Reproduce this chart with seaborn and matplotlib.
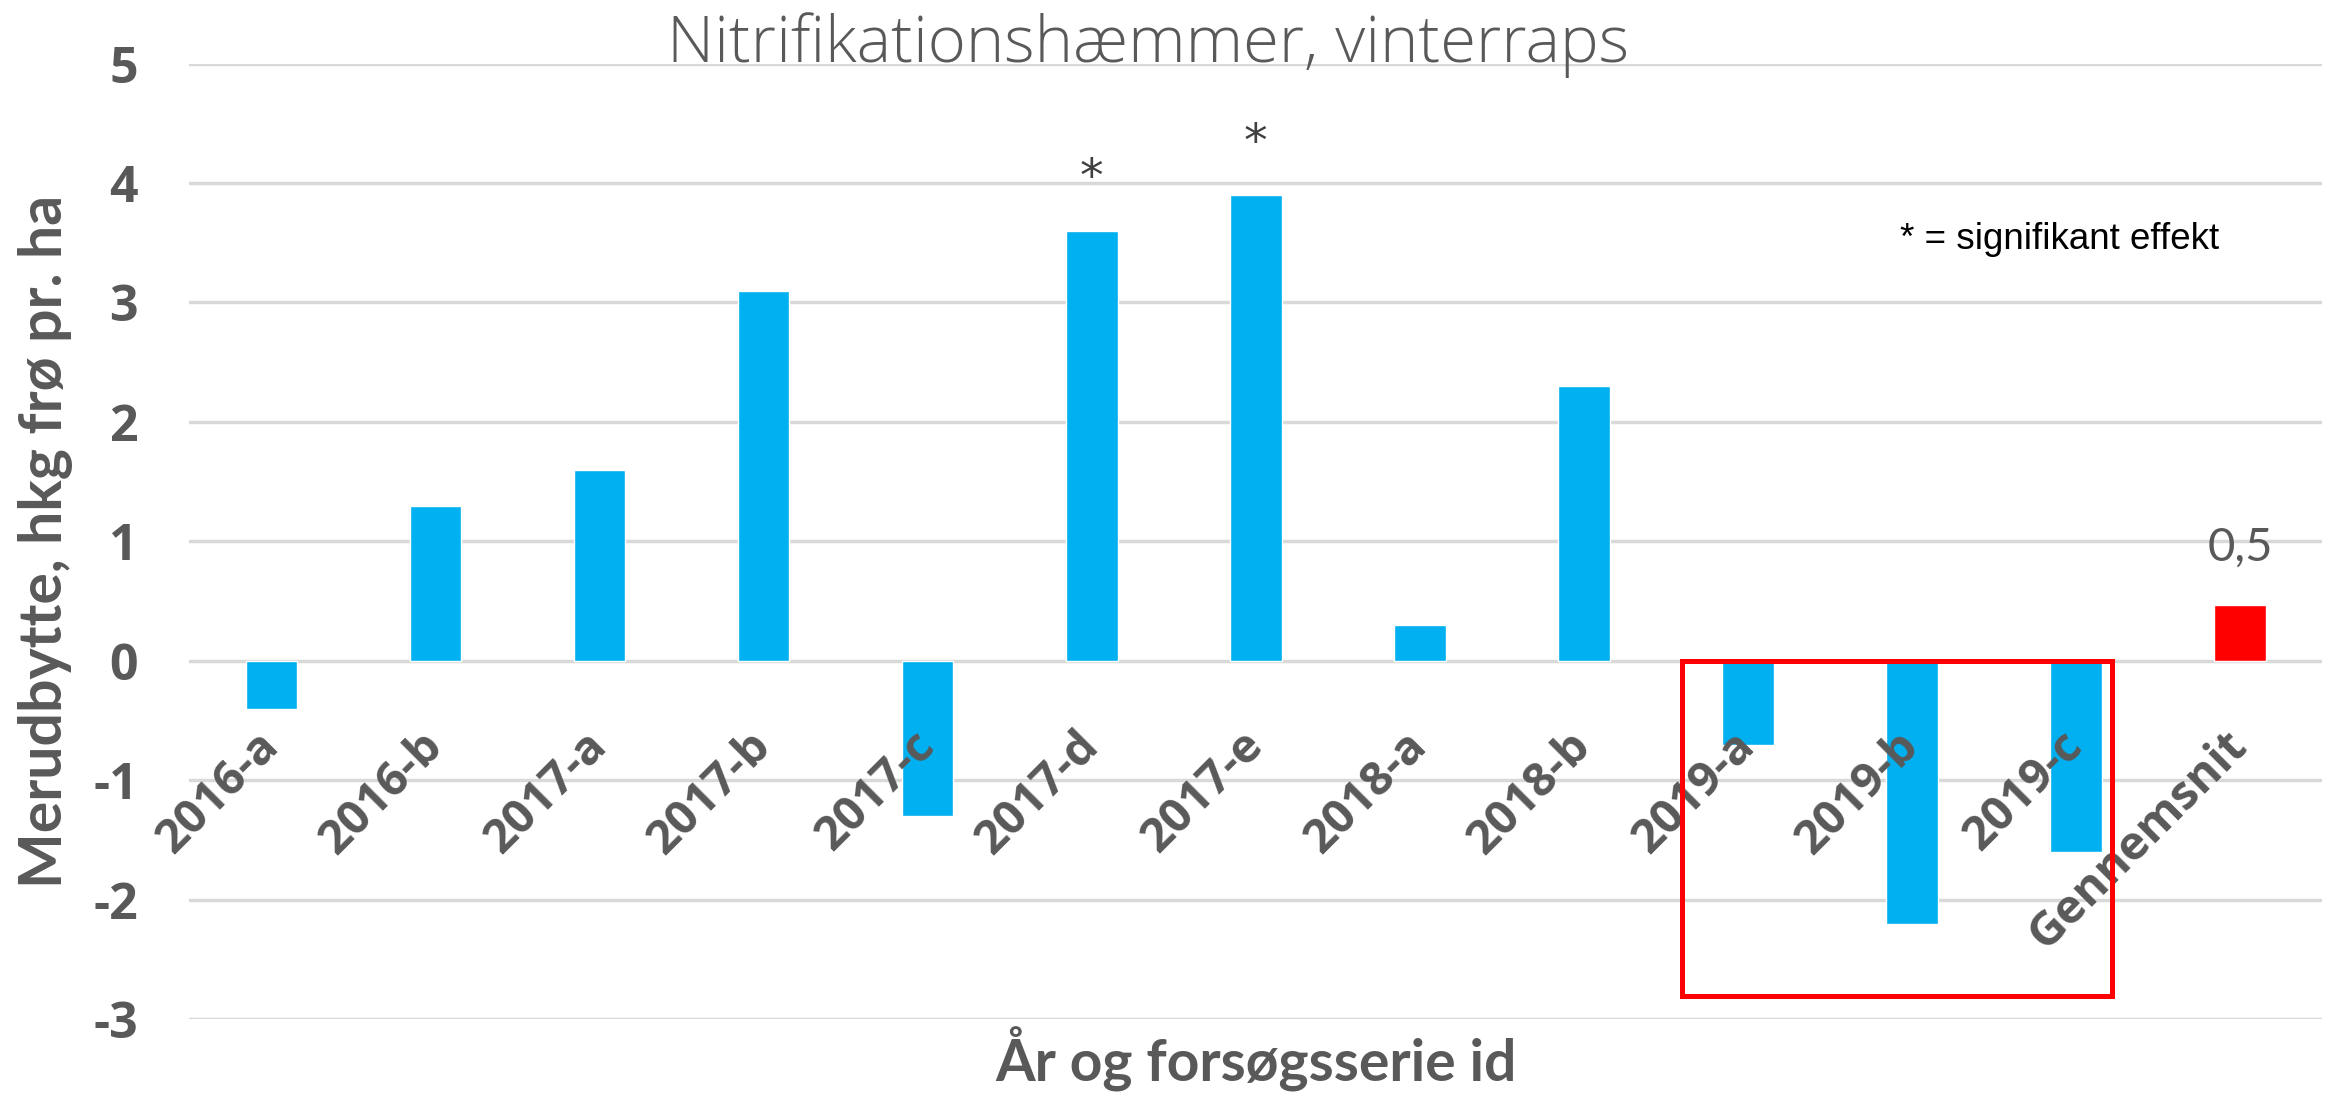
import matplotlib
matplotlib.use('Agg')
import matplotlib.pyplot as plt
import matplotlib.patches as patches
import pandas as pd
import seaborn as sns

# Data
categories = ['2016-a', '2016-b', '2017-a', '2017-b', '2017-c', '2017-d', '2017-e',
              '2018-a', '2018-b', '2019-a', '2019-b', '2019-c', 'Gennemsnit']
values = [-0.4, 1.3, 1.6, 3.1, -1.3, 3.6, 3.9, 0.3, 2.3, -0.7, -2.2, -1.6, 0.47]
significant = ['2017-d', '2017-e']
average_label = 'Gennemsnit'
highlight = ['2019-a', '2019-b', '2019-c']

blue = '#00B0F0'
red = '#FF0000'
grey = '#595959'
colors = [red if c == average_label else blue for c in categories]

df = pd.DataFrame({'id': categories, 'value': values})

sns.set_style('white')
plt.rcParams['font.family'] = ['Lato', 'DejaVu Sans']
plt.rcParams['axes.unicode_minus'] = False

fig = plt.figure(figsize=(23.25, 10.95), dpi=100)
ax = fig.add_axes([0.0815, 0.069, 0.9172, 0.873])

sns.barplot(data=df, x='id', y='value', hue='id', palette=colors, width=0.315,
            legend=False, ax=ax, saturation=1)

ax.set_ylim(-3, 5)
ax.set_xlim(-0.5, len(categories) - 0.5)
ax.set_yticks(range(-3, 6))
ax.yaxis.grid(True, color='#D9D9D9', linewidth=2.5)
ax.set_axisbelow(True)
ax.xaxis.set_zorder(5)  # tick labels drawn over the bars, grid stays below
for s in ax.spines.values():
    s.set_visible(False)
ax.spines['bottom'].set_position(('data', 0))

ax.tick_params(axis='both', length=0)
ax.tick_params(axis='y', pad=37)
ax.tick_params(axis='x', pad=56)
for lab in ax.get_yticklabels():
    lab.set_fontfamily('Open Sans')
    lab.set_fontweight('bold')
    lab.set_fontsize(36)
    lab.set_color(grey)
for lab in ax.get_xticklabels():
    lab.set_fontfamily('Open Sans')
    lab.set_fontweight('bold')
    lab.set_fontsize(34)
    lab.set_color(grey)
    lab.set_rotation(45)
    lab.set_ha('right')
    lab.set_va('center')
    lab.set_rotation_mode('anchor')

ax.set_ylabel('Merudbytte, hkg frø pr. ha', fontsize=42.5, fontweight='bold', color=grey)
ax.yaxis.set_label_coords(-0.0546, 0.5)
ax.set_xlabel('År og forsøgsserie id', fontsize=41, fontweight='bold', color=grey,
              va='baseline')
ax.xaxis.set_label_coords(0.5, -0.0654)

fig.text(0.494, 0.943, 'Nitrifikationshæmmer, vinterraps', fontsize=47,
         family='Open Sans', fontweight='light', color=grey, ha='center', va='baseline')

# significance stars
for c in significant:
    i = categories.index(c)
    ax.text(i, values[i] + 0.33, '*', fontsize=34, family='DejaVu Sans',
            color='#404040', ha='center', va='baseline')

# average label
i = categories.index(average_label)
ax.text(i, values[i] + 0.475, f'{values[i]:.1f}'.replace('.', ','), fontsize=34,
        color=grey, ha='center', va='center')

ax.text(10.9, 3.53, '* = signifikant effekt', fontsize=26.5, family='Liberation Sans',
        color='black', ha='center', va='center')

# red frame around the 2019 trials
x0 = categories.index(highlight[0]) - 0.4
x1 = categories.index(highlight[-1]) + 0.22
ax.add_patch(patches.Rectangle((x0, -2.8), x1 - x0, 2.8, fill=False, edgecolor=red,
                               linewidth=3.6, zorder=6, clip_on=False))

fig.savefig('out.png', dpi=100)
